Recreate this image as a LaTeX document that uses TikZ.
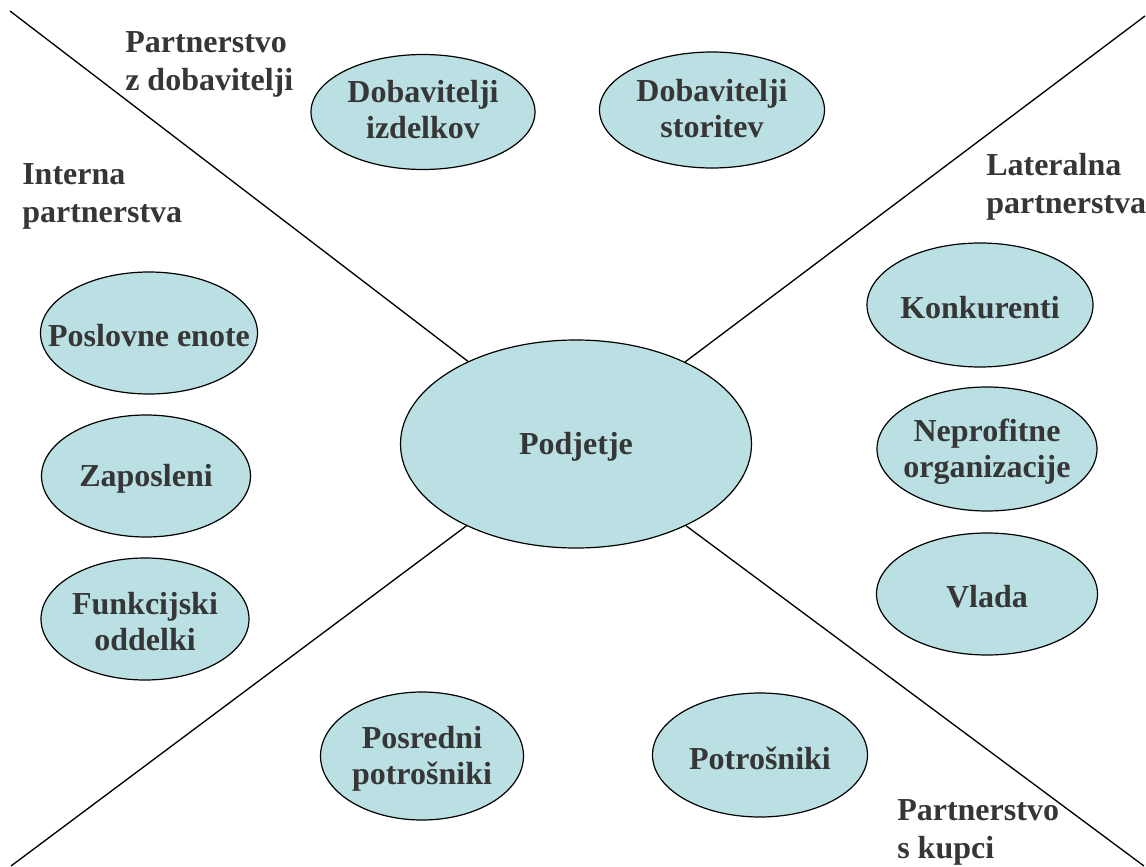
\documentclass[tikz,border=0pt]{standalone}
\usepackage{fontspec}
\setmainfont{Liberation Serif}
\usetikzlibrary{shapes.geometric}
\definecolor{bubble}{RGB}{186,224,227}
\definecolor{ink}{RGB}{54,54,54}
\begin{document}
\begin{tikzpicture}[x=0.75pt,y=-0.75pt,
  bub/.style 2 args={ellipse,draw=black,line width=0.9pt,fill=bubble,inner sep=0pt,
    minimum width=#1*0.75pt,minimum height=#2*0.75pt},
  txt/.style={font=\fontsize{24}{27}\selectfont\bfseries,text=ink,align=center,inner sep=0pt,yshift=-2.25pt},
  zone/.style={font=\fontsize{24}{28.5}\selectfont\bfseries,text=ink,align=left,inner sep=0pt,anchor=base west},
  divider/.style={draw=black,line width=1pt}]
\useasboundingbox (0,0) rectangle (1146,867);

% ellipses
\node[bub={351}{208}] (c)   at (576,444) {};
\node[bub={224}{115}] (di)  at (423,112) {};
\node[bub={225}{116}] (ds)  at (712,110) {};
\node[bub={226}{124}] (kon) at (980,305) {};
\node[bub={220}{124}] (nep) at (987,449) {};
\node[bub={221}{122}] (vla) at (987,594) {};
\node[bub={217}{122}] (pe)  at (149,333) {};
\node[bub={209}{122}] (zap) at (146,476) {};
\node[bub={208}{122}] (fo)  at (145,619) {};
\node[bub={203}{128}] (pp)  at (422,756) {};
\node[bub={215}{124}] (pot) at (760,755) {};

% ellipse texts
\node[txt] at (c)   {Podjetje};
\node[txt,yshift=4pt] at (di)  {Dobavitelji\\izdelkov};
\node[txt,yshift=3pt] at (ds)  {Dobavitelji\\storitev};
\node[txt] at (kon) {Konkurenti};
\node[txt] at (nep) {Neprofitne\\organizacije};
\node[txt] at (vla) {Vlada};
\node[txt] at (pe)  {Poslovne enote};
\node[txt] at (zap) {Zaposleni};
\node[txt] at (fo)  {Funkcijski\\oddelki};
\node[txt] at (pp)  {Posredni\\potrošniki};
\node[txt] at (pot) {Potrošniki};

% diagonal dividers
\coordinate (tl) at (10,11);
\coordinate (tr) at (1145,16);
\coordinate (bl) at (11,866);
\coordinate (br) at (1144,866);
\draw[divider] (tl) -- (c);
\draw[divider] (tr) -- (c);
\draw[divider] (bl) -- (c);
\draw[divider] (br) -- (c);

% zone titles (anchored at the baseline of the last line)
\node[zone] (z1) at (125,91)  {Partnerstvo\\z dobavitelji};
\node[zone] (z2) at (22,222)  {Interna\\partnerstva};
\node[zone] (z3) at (986,213) {Lateralna\\partnerstva};
\node[zone] (z4) at (897,858) {Partnerstvo\\s kupci};
\end{tikzpicture}
\end{document}
